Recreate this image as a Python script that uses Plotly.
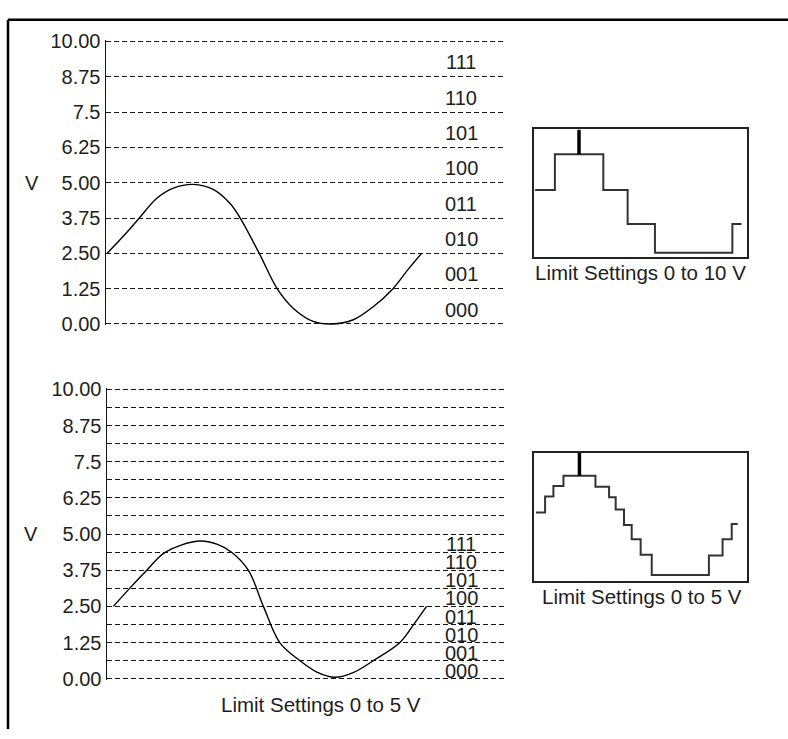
import plotly.graph_objects as go

# ---------------- data ----------------
tick_vals = [0, 1.25, 2.5, 3.75, 5, 6.25, 7.5, 8.75, 10]
tick_text = ["0.00", "1.25", "2.50", "3.75", "5.00", "6.25", "7.5", "8.75", "10.00"]
codes = ["000", "001", "010", "011", "100", "101", "110", "111"]

# analog signal, 0-10 V range panel (time in % of plot width, volts)
sig1_t = [0.3, 4.4, 8.4, 12.8, 17.0, 22.0, 27.0, 31.2, 33.8, 38.6, 43.1, 47.2, 52.2, 56.8, 62.3, 67.3, 72.3, 76.1, 79.5]
sig1_v = [2.5, 3.11, 3.75, 4.45, 4.81, 4.94, 4.76, 4.27, 3.75, 2.5, 1.25, 0.55, 0.09, 0.0, 0.15, 0.61, 1.25, 1.93, 2.5]

# analog signal, 0-5 V range panel
sig2_t = [1.6, 5.8, 10.0, 14.6, 23.1, 27.6, 31.3, 35.5, 39.3, 43.4, 48.5, 52.6, 57.3, 62.0, 66.9, 73.6, 77.4, 80.3]
sig2_v = [2.5, 3.14, 3.75, 4.37, 4.76, 4.65, 4.37, 3.75, 2.5, 1.25, 0.62, 0.24, 0.05, 0.22, 0.62, 1.25, 1.94, 2.5]

q1_t = [0.5, 9.8, 32.5, 43.9, 56.7, 93.0, 97.3]
q1_v = [2.39, 3.75, 2.39, 1.09, 0.0, 1.09, 1.09]
q1_mark_t = 21.1

q2_t = [0.9, 5.2, 9.1, 13.8, 28.8, 35.2, 38.3, 42.2, 45.8, 50.0, 55.2, 82.0, 88.4, 92.7, 95.5]
q2_v = [2.75, 3.46, 3.92, 4.38, 3.89, 3.43, 2.89, 2.20, 1.57, 0.89, 0.0, 0.86, 1.57, 2.25, 2.25]
q2_mark_t = 21.3

caption_10 = "Limit Settings 0 to 10 V"
caption_5 = "Limit Settings 0 to 5 V"

# ---------------- layout helpers ----------------
W, H = 788, 739
def px(x):
    return x / W
def py(y):
    return 1 - y / H

FONT = "Liberation Sans, Arial, sans-serif"
TXT = "#1e1e1e"
DASH = "5px,3px"
GRID = "#151515"
FS = 20
PAD = 0.05  # small range padding so the 0 V and 10 V grid lines are drawn

fig = go.Figure()

# main panels
fig.add_trace(go.Scatter(x=sig1_t, y=sig1_v, mode="lines", line=dict(color="black", width=1.4, shape="spline", smoothing=1.0),
                         xaxis="x", yaxis="y", hoverinfo="skip", showlegend=False))
fig.add_trace(go.Scatter(x=sig2_t, y=sig2_v, mode="lines", line=dict(color="black", width=1.4, shape="spline", smoothing=1.0),
                         xaxis="x2", yaxis="y2", hoverinfo="skip", showlegend=False))

# small panels
fig.add_trace(go.Scatter(x=q1_t, y=q1_v, mode="lines", line=dict(color="#333333", width=2, shape="hv"),
                         xaxis="x3", yaxis="y3", hoverinfo="skip", showlegend=False))
fig.add_trace(go.Scatter(x=[q1_mark_t, q1_mark_t], y=[max(q1_v), 4.70], mode="lines", line=dict(color="black", width=3.5),
                         xaxis="x3", yaxis="y3", hoverinfo="skip", showlegend=False))
fig.add_trace(go.Scatter(x=q2_t, y=q2_v, mode="lines", line=dict(color="#333333", width=2, shape="hv"),
                         xaxis="x4", yaxis="y4", hoverinfo="skip", showlegend=False))
fig.add_trace(go.Scatter(x=[q2_mark_t, q2_mark_t], y=[max(q2_v), 5.38], mode="lines", line=dict(color="black", width=3.5),
                         xaxis="x4", yaxis="y4", hoverinfo="skip", showlegend=False))

main_y = dict(range=[-PAD, 10 + PAD], tickvals=tick_vals, ticktext=tick_text, showgrid=True, gridcolor=GRID, gridwidth=1,
              griddash=DASH, showline=True, linecolor="#111111", linewidth=1.5, ticks="", zeroline=False,
              tickfont=dict(family=FONT, size=FS, color=TXT), fixedrange=True)

box_axis = dict(showticklabels=False, ticks="", showgrid=False, zeroline=False, showline=True, mirror=True,
                linecolor="#222222", linewidth=2, fixedrange=True)

# pixel scale of the main panels (px per volt)
s1 = (322.7 - 32.3) / 10
s2 = (687.3 - 390.0) / 10

fig.update_layout(
    width=W, height=H, margin=dict(l=0, r=0, t=0, b=0),
    paper_bgcolor="white", plot_bgcolor="rgba(0,0,0,0)",
    showlegend=False,
    xaxis=dict(domain=[px(106), px(503)], range=[0, 100], visible=False, anchor="y", fixedrange=True),
    yaxis=dict(domain=[py(322.7 + PAD * s1), py(32.3 - PAD * s1)], anchor="x", **main_y),
    xaxis2=dict(domain=[px(107), px(505)], range=[0, 100], visible=False, anchor="y2", fixedrange=True),
    yaxis2=dict(domain=[py(687.3 + PAD * s2), py(390 - PAD * s2)], anchor="x2",
                minor=dict(dtick=0.625, tick0=0, showgrid=True, gridcolor=GRID, gridwidth=1, griddash=DASH, ticks=""),
                **main_y),
    xaxis3=dict(domain=[px(534), px(747.3)], range=[0, 100], anchor="y3", **box_axis),
    yaxis3=dict(domain=[py(254), py(122.7)], range=[-0.17, 4.70], anchor="x3", **box_axis),
    xaxis4=dict(domain=[px(534), px(747.3)], range=[0, 100], anchor="y4", **box_axis),
    yaxis4=dict(domain=[py(586.7), py(455.3)], range=[-0.26, 5.38], anchor="x4", **box_axis),
)

ann = []
# code labels, 0-10 V range: 1.25 V per code
for k, c in enumerate(codes):
    ann.append(dict(x=89.5, y=(k + 0.5) * 1.25 - 0.12, xref="x", yref="y", text=c, showarrow=False,
                    font=dict(family=FONT, size=FS, color=TXT), xanchor="center", yanchor="middle"))
# code labels, 0-5 V range: 0.625 V per code
for k, c in enumerate(codes):
    ann.append(dict(x=89.0, y=(k + 0.5) * 0.625 - 0.04, xref="x2", yref="y2", text=c, showarrow=False,
                    font=dict(family=FONT, size=FS, color=TXT), xanchor="center", yanchor="middle"))
# V labels
ann.append(dict(x=px(31.7), y=5, xref="paper", yref="y", text="V", showarrow=False,
                font=dict(family=FONT, size=FS, color=TXT), xanchor="center", yanchor="middle"))
ann.append(dict(x=px(30.5), y=5, xref="paper", yref="y2", text="V", showarrow=False,
                font=dict(family=FONT, size=FS, color=TXT), xanchor="center", yanchor="middle"))
# captions
ann.append(dict(x=px(640), y=py(270), xref="paper", yref="paper", text=caption_10, showarrow=False,
                font=dict(family=FONT, size=20.5, color=TXT), xanchor="center", yanchor="middle"))
ann.append(dict(x=px(641.7), y=py(603.3), xref="paper", yref="paper", text=caption_5, showarrow=False,
                font=dict(family=FONT, size=20.5, color=TXT), xanchor="center", yanchor="middle"))
ann.append(dict(x=px(320.8), y=py(714.0), xref="paper", yref="paper", text=caption_5, showarrow=False,
                font=dict(family=FONT, size=20.5, color=TXT), xanchor="center", yanchor="middle"))
fig.update_layout(annotations=ann)

# outer frame (left and top edges)
fig.add_shape(type="line", xref="paper", yref="paper", x0=px(8), x1=px(8), y0=py(10), y1=py(739),
              line=dict(color="black", width=2.5))
fig.add_shape(type="line", xref="paper", yref="paper", x0=px(8), x1=px(788), y0=py(10), y1=py(10),
              line=dict(color="black", width=2.5))

fig.write_html("out.html", config={"displayModeBar": False, "staticPlot": True},
               post_script="document.body.style.margin='0';document.body.style.overflow='hidden';")
